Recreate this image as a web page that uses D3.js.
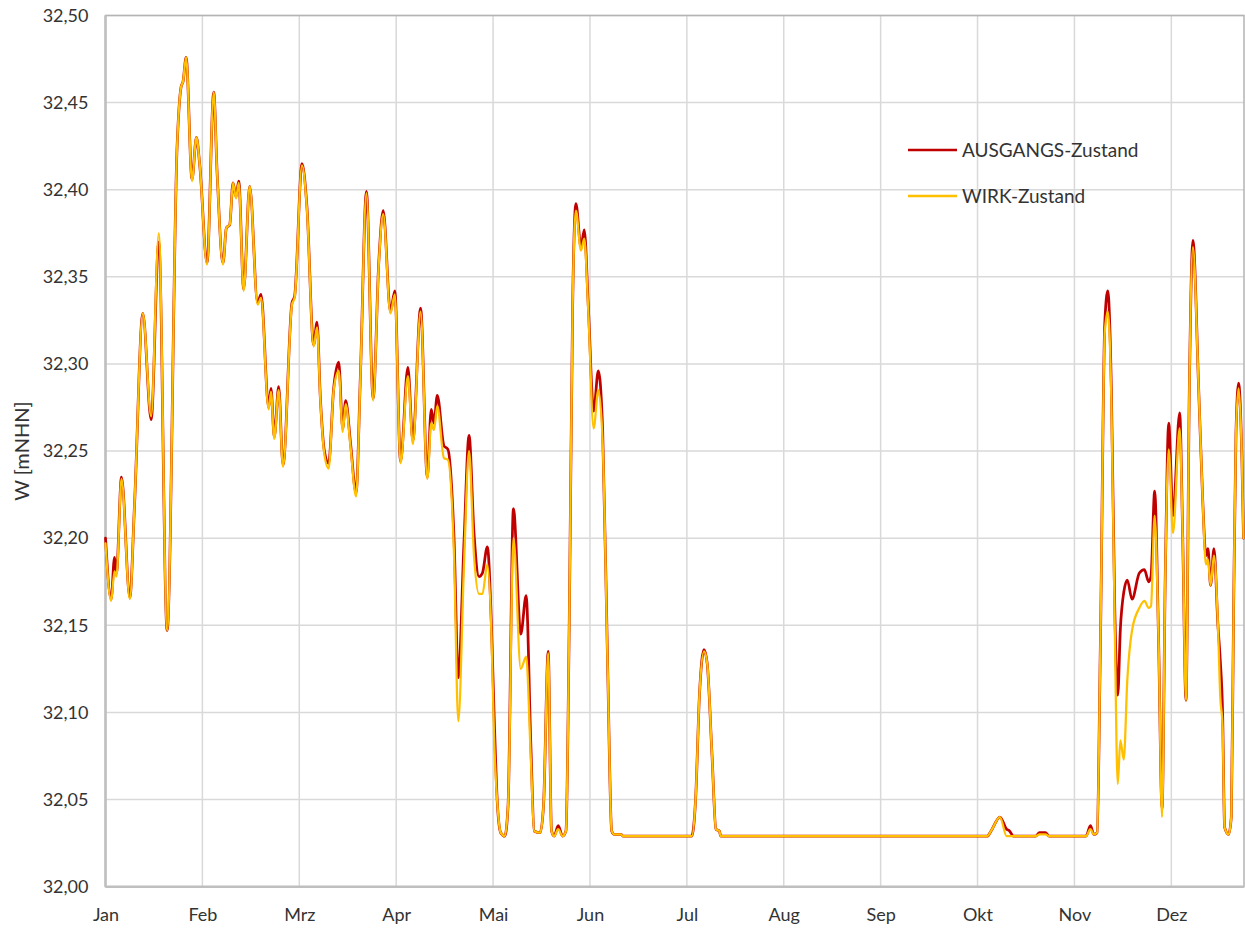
<!DOCTYPE html>
<html>
<head>
<meta charset="utf-8">
<script src="https://cdn.jsdelivr.net/npm/d3@7"></script>
<style>
  body { margin: 0; background: #fff; }
  text { font-family: Lato, "Open Sans", sans-serif; fill: #333; }
  .grid line { stroke: #d9d9d9; stroke-width: 1.5; }
  .line { fill: none; stroke-linejoin: round; stroke-linecap: round; }
</style>
</head>
<body>
<svg id="chart" width="1245" height="931"></svg>
<script>
var months = ["Jan", "Feb", "Mrz", "Apr", "Mai", "Jun", "Jul", "Aug", "Sep", "Okt", "Nov", "Dez"];
var yTicks = [32.00, 32.05, 32.10, 32.15, 32.20, 32.25, 32.30, 32.35, 32.40, 32.45, 32.50];
var seriesNames = ["AUSGANGS-Zustand", "WIRK-Zustand"];

// position in months from 1 Jan
var t = [
  0.000, 0.058, 0.093, 0.113, 0.165, 0.251, 0.300, 0.385, 0.471, 0.550,
  0.636, 0.739, 0.780, 0.800, 0.832, 0.893, 0.938, 0.973, 1.048, 1.117,
  1.151, 1.213, 1.247, 1.282, 1.316, 1.347, 1.375, 1.426, 1.488, 1.570,
  1.605, 1.684, 1.708, 1.742, 1.787, 1.832, 1.924, 1.952, 2.028, 2.079,
  2.148, 2.183, 2.217, 2.259, 2.303, 2.355, 2.407, 2.448, 2.479, 2.528,
  2.586, 2.631, 2.693, 2.762, 2.821, 2.866, 2.941, 2.986, 3.045, 3.121,
  3.172, 3.252, 3.321, 3.362, 3.390, 3.424, 3.493, 3.534, 3.597, 3.641,
  3.700, 3.752, 3.803, 3.855, 3.890, 3.941, 3.983, 4.010, 4.045, 4.079,
  4.121, 4.155, 4.210, 4.286, 4.341, 4.390, 4.424, 4.486, 4.521, 4.569,
  4.603, 4.631, 4.672, 4.717, 4.752, 4.786, 4.821, 4.855, 4.907, 4.941,
  4.983, 5.038, 5.086, 5.131, 5.183, 5.224, 5.252, 5.320, 5.340, 6.050,
  6.090, 6.130, 6.177, 6.210, 6.260, 6.300, 6.335, 6.350, 9.100, 9.140,
  9.231, 9.300, 9.330, 9.370, 9.600, 9.640, 9.700, 9.740, 10.120, 10.165,
  10.200, 10.234, 10.268, 10.313, 10.344, 10.381, 10.416, 10.447, 10.474, 10.509,
  10.546, 10.594, 10.670, 10.722, 10.766, 10.790, 10.828, 10.869, 10.904, 10.938,
  10.973, 11.017, 11.086, 11.117, 11.151, 11.186, 11.223, 11.282, 11.323, 11.357,
  11.378, 11.405, 11.440, 11.481, 11.505, 11.529, 11.550, 11.591, 11.619, 11.643,
  11.667, 11.694, 11.729, 11.745
];

var ausgang = [
  32.200, 32.165, 32.189, 32.180, 32.235, 32.166, 32.220, 32.329, 32.268, 32.370,
  32.147, 32.425, 32.459, 32.462, 32.476, 32.406, 32.430, 32.414, 32.358, 32.456,
  32.411, 32.358, 32.378, 32.380, 32.404, 32.396, 32.405, 32.343, 32.402, 32.335,
  32.340, 32.275, 32.286, 32.258, 32.287, 32.242, 32.335, 32.339, 32.415, 32.390,
  32.311, 32.324, 32.281, 32.250, 32.243, 32.286, 32.301, 32.263, 32.279, 32.255,
  32.226, 32.294, 32.399, 32.280, 32.359, 32.388, 32.330, 32.342, 32.244, 32.298,
  32.256, 32.332, 32.235, 32.274, 32.266, 32.282, 32.253, 32.251, 32.200, 32.120,
  32.198, 32.259, 32.203, 32.178, 32.180, 32.195, 32.150, 32.100, 32.047, 32.031,
  32.029, 32.047, 32.217, 32.145, 32.167, 32.081, 32.032, 32.031, 32.047, 32.135,
  32.032, 32.029, 32.035, 32.029, 32.032, 32.150, 32.333, 32.392, 32.367, 32.377,
  32.333, 32.273, 32.296, 32.262, 32.125, 32.032, 32.030, 32.030, 32.029, 32.029,
  32.050, 32.110, 32.136, 32.128, 32.075, 32.033, 32.032, 32.029, 32.029, 32.032,
  32.040, 32.033, 32.032, 32.029, 32.029, 32.031, 32.031, 32.029, 32.029, 32.035,
  32.030, 32.031, 32.140, 32.323, 32.342, 32.286, 32.160, 32.110, 32.148, 32.169,
  32.176, 32.165, 32.180, 32.182, 32.175, 32.178, 32.227, 32.140, 32.045, 32.180,
  32.266, 32.213, 32.272, 32.202, 32.107, 32.286, 32.371, 32.286, 32.223, 32.190,
  32.194, 32.173, 32.194, 32.150, 32.130, 32.100, 32.034, 32.030, 32.040, 32.161,
  32.260, 32.289, 32.244, 32.200
];

var wirk = [
  32.197, 32.164, 32.181, 32.178, 32.234, 32.165, 32.220, 32.329, 32.270, 32.375,
  32.147, 32.425, 32.459, 32.462, 32.476, 32.405, 32.430, 32.414, 32.357, 32.456,
  32.411, 32.357, 32.378, 32.380, 32.404, 32.395, 32.404, 32.342, 32.402, 32.334,
  32.338, 32.274, 32.284, 32.257, 32.285, 32.241, 32.334, 32.338, 32.414, 32.389,
  32.310, 32.321, 32.280, 32.248, 32.240, 32.285, 32.296, 32.261, 32.277, 32.253,
  32.224, 32.293, 32.398, 32.279, 32.358, 32.386, 32.329, 32.340, 32.243, 32.293,
  32.254, 32.330, 32.234, 32.266, 32.262, 32.276, 32.246, 32.245, 32.190, 32.095,
  32.185, 32.250, 32.190, 32.168, 32.168, 32.185, 32.145, 32.086, 32.047, 32.031,
  32.029, 32.047, 32.200, 32.125, 32.132, 32.073, 32.032, 32.031, 32.047, 32.134,
  32.032, 32.029, 32.033, 32.029, 32.032, 32.150, 32.333, 32.388, 32.365, 32.372,
  32.330, 32.263, 32.285, 32.255, 32.125, 32.032, 32.030, 32.030, 32.029, 32.029,
  32.050, 32.110, 32.135, 32.128, 32.075, 32.033, 32.032, 32.029, 32.029, 32.032,
  32.040, 32.029, 32.029, 32.029, 32.029, 32.030, 32.030, 32.029, 32.029, 32.033,
  32.030, 32.031, 32.140, 32.318, 32.330, 32.280, 32.150, 32.059, 32.084, 32.073,
  32.119, 32.147, 32.160, 32.164, 32.160, 32.161, 32.213, 32.140, 32.040, 32.180,
  32.251, 32.203, 32.263, 32.202, 32.107, 32.286, 32.367, 32.286, 32.223, 32.185,
  32.188, 32.173, 32.190, 32.150, 32.109, 32.092, 32.034, 32.030, 32.040, 32.161,
  32.260, 32.286, 32.244, 32.200
];

var svg = d3.select("#chart"),
    margin = {top: 15.5, right: 1, bottom: 44.3, left: 105.5},
    width = +svg.attr("width") - margin.left - margin.right,
    height = +svg.attr("height") - margin.top - margin.bottom,
    g = svg.append("g").attr("transform", "translate(" + margin.left + "," + margin.top + ")");

var x = d3.scaleLinear()
    .domain([0, 11.75])
    .range([0, width]);

var y = d3.scaleLinear()
    .domain([32.0, 32.5])
    .range([height, 0]);

var fmt = d => d3.format(".2f")(d).replace(".", ",");

// gridlines
g.append("g")
    .attr("class", "grid")
    .selectAll("line.h")
    .data(yTicks.slice(1))
    .join("line")
    .attr("x1", 0).attr("x2", width)
    .attr("y1", d => y(d)).attr("y2", d => y(d));

g.append("g")
    .attr("class", "grid")
    .selectAll("line.v")
    .data(d3.range(1, months.length))
    .join("line")
    .attr("x1", d => x(d)).attr("x2", d => x(d))
    .attr("y1", 0).attr("y2", height);

// frame
g.append("rect")
    .attr("width", width)
    .attr("height", height)
    .attr("fill", "none")
    .attr("stroke", "#b4b4b4")
    .attr("stroke-width", 1.5);

g.append("line")
    .attr("x1", 0).attr("x2", 0).attr("y1", 0).attr("y2", height)
    .attr("stroke", "#bfbfbf").attr("stroke-width", 2.5);
g.append("line")
    .attr("x1", 0).attr("x2", width).attr("y1", height).attr("y2", height)
    .attr("stroke", "#bfbfbf").attr("stroke-width", 2.5);

// axes
var yAxis = g.append("g")
    .call(d3.axisLeft(y).tickValues(yTicks).tickFormat(fmt).tickSize(0).tickPadding(17));
yAxis.select(".domain").remove();
yAxis.selectAll("text")
    .style("font-size", "18px")
    .style("font-family", "Lato, sans-serif")
    .attr("fill", "#333");

var xAxis = g.append("g")
    .attr("transform", "translate(0," + height + ")")
    .call(d3.axisBottom(x).tickValues(d3.range(months.length)).tickFormat(i => months[i]).tickSize(0).tickPadding(22));
xAxis.select(".domain").remove();
xAxis.selectAll("text")
    .style("font-size", "18px")
    .style("font-family", "Lato, sans-serif")
    .attr("fill", "#333");

svg.append("text")
    .attr("transform", "translate(29," + (margin.top + height / 2) + ") rotate(-90)")
    .attr("text-anchor", "middle")
    .style("font-size", "20px")
    .text("W [mNHN]");

// lines
var line = d3.line()
    .x((d, i) => x(t[i]))
    .y(d => y(d))
    .curve(d3.curveMonotoneX);

g.append("path")
    .datum(ausgang)
    .attr("class", "line")
    .attr("stroke", "#c00000")
    .attr("stroke-width", 2.75)
    .attr("d", line);

g.append("path")
    .datum(wirk)
    .attr("class", "line")
    .attr("stroke", "#ffc000")
    .attr("stroke-width", 2.25)
    .attr("d", line);

// legend
var colors = ["#c00000", "#ffc000"];
var legend = svg.append("g")
    .attr("transform", "translate(908,150)");

var item = legend.selectAll("g")
    .data(seriesNames)
    .join("g")
    .attr("transform", (d, i) => "translate(0," + i * 46 + ")");

item.append("line")
    .attr("x1", 0).attr("x2", 49)
    .attr("stroke", (d, i) => colors[i])
    .attr("stroke-width", 2.5);

item.append("text")
    .attr("x", 54)
    .attr("dy", "0.35em")
    .style("font-size", "19px")
    .text(d => d);
</script>
</body>
</html>
